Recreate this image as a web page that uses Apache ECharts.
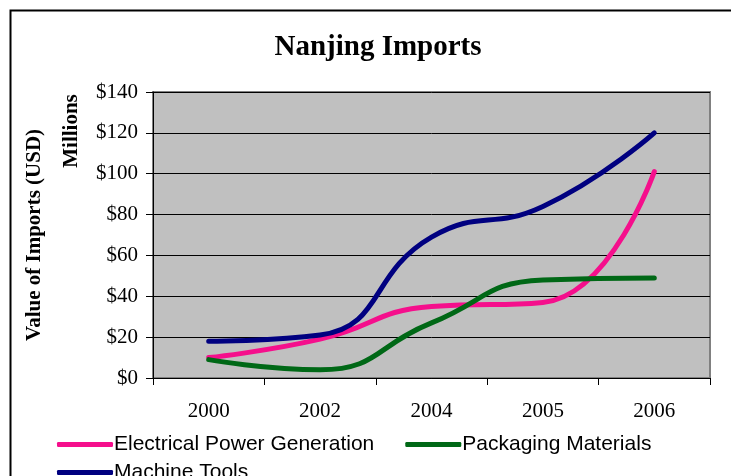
<!DOCTYPE html>
<html>
<head>
<meta charset="utf-8">
<script src="https://cdn.jsdelivr.net/npm/echarts@6/dist/echarts.min.js"></script>
<style>
  html, body { margin: 0; padding: 0; background: #fff; }
  #chart { width: 731px; height: 476px; }
</style>
</head>
<body>
<div id="chart"></div>
<script>
// values, millions USD
var years = ['2000', '2002', '2004', '2005', '2006'];
var electrical = [10, 19, 35, 37, 101];
var packaging = [9, 4, 27, 48, 49];
var machine = [18, 21, 69, 84, 120];
var yTicks = [0, 20, 40, 60, 80, 100, 120, 140];

var serif = '"Liberation Serif", "Times New Roman", serif';
var sans = '"Liberation Sans", Arial, sans-serif';

function lineSeries(name, data, color) {
    return {
        name: name,
        type: 'line',
        data: data,
        smooth: 0.5,
        showSymbol: false,
        symbol: 'none',
        lineStyle: { color: color, width: 5, cap: 'round', join: 'round' },
        itemStyle: { color: color },
        z: 3
    };
}

var myChart = echarts.init(document.getElementById('chart'), null, { renderer: 'canvas' });

option = {
    backgroundColor: '#ffffff',
    animation: false,
    title: {
        text: 'Nanjing Imports',
        left: 373,
        textAlign: 'center',
        top: 28,
        textStyle: { fontFamily: serif, fontSize: 29, fontWeight: 'bold', color: '#000' }
    },
    grid: {
        left: 153,
        right: 21,
        top: 92,
        bottom: 98,
        show: true,
        backgroundColor: '#c0c0c0',
        borderColor: '#808080',
        borderWidth: 2
    },
    legend: [
        {
            data: ['Electrical Power Generation', 'Packaging Materials'],
            left: 52,
            top: 429,
            itemWidth: 56,
            itemHeight: 5,
            itemGap: 31,
            icon: 'roundRect',
            textStyle: { fontFamily: sans, fontSize: 21, color: '#000', padding: [0, 0, 0, -4] }
        },
        {
            data: ['Machine Tools'],
            left: 52,
            top: 457,
            itemWidth: 56,
            itemHeight: 5,
            icon: 'roundRect',
            textStyle: { fontFamily: sans, fontSize: 21, color: '#000', padding: [0, 0, 0, -4] }
        }
    ],
    xAxis: {
        type: 'category',
        data: years,
        boundaryGap: true,
        axisLine: { lineStyle: { color: '#000', width: 1 } },
        axisTick: { show: true, length: 7, lineStyle: { color: '#000' } },
        axisLabel: { fontFamily: serif, fontSize: 21, color: '#000', margin: 23 },
        splitLine: { show: false }
    },
    yAxis: {
        type: 'value',
        min: yTicks[0],
        max: yTicks[yTicks.length - 1],
        interval: yTicks[1] - yTicks[0],
        axisLine: { show: true, lineStyle: { color: '#000', width: 1 } },
        axisTick: { show: true, length: 7, lineStyle: { color: '#000' } },
        axisLabel: {
            fontFamily: serif, fontSize: 21, color: '#000', margin: 15,
            formatter: function (v) { return '$' + v; }
        },
        splitLine: { show: true, lineStyle: { color: '#000', width: 1 } }
    },
    graphic: [
        {
            type: 'rect',
            shape: { x: 10.5, y: 10.5, width: 760, height: 500 },
            style: { fill: 'none', stroke: '#000', lineWidth: 2 },
            silent: true
        },
        {
            type: 'text',
            x: 35,
            y: 235,
            rotation: Math.PI / 2,
            style: {
                text: 'Value of Imports (USD)',
                fontFamily: serif, fontSize: 21, fontWeight: 'bold', fill: '#000',
                textAlign: 'center', textVerticalAlign: 'middle'
            }
        },
        {
            type: 'text',
            x: 72,
            y: 131,
            rotation: Math.PI / 2,
            style: {
                text: 'Millions',
                fontFamily: serif, fontSize: 21, fontWeight: 'bold', fill: '#000',
                textAlign: 'center', textVerticalAlign: 'middle'
            }
        }
    ],
    series: [
        lineSeries('Electrical Power Generation', electrical, '#f50f8c'),
        lineSeries('Packaging Materials', packaging, '#006816'),
        lineSeries('Machine Tools', machine, '#000080')
    ]
};

myChart.setOption(option);
</script>
</body>
</html>
